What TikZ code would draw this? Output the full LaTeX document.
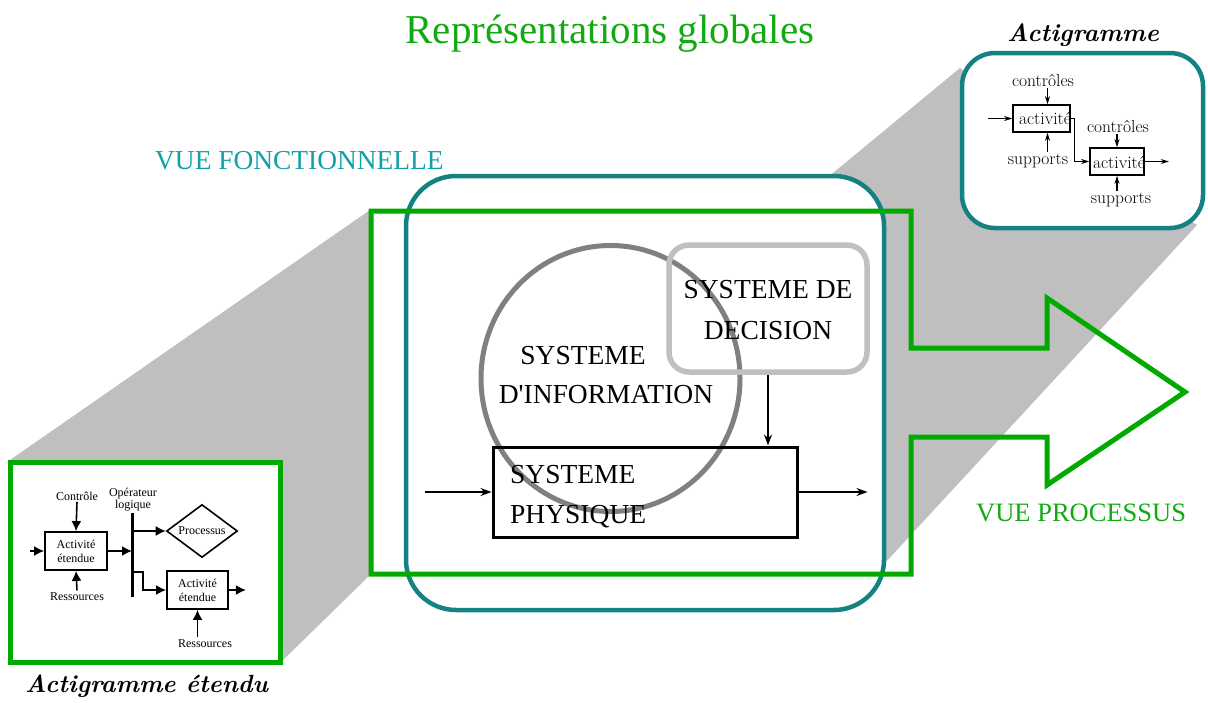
\documentclass[tikz,border=0pt]{standalone}
\usepackage{fontspec}
\newfontfamily\tnr{Liberation Serif}
\usetikzlibrary{arrows.meta,shapes.geometric}
\definecolor{teal1}{RGB}{20,130,130}
\definecolor{tealtxt}{RGB}{17,160,168}
\definecolor{grn}{RGB}{0,170,0}
\definecolor{grntxt}{RGB}{17,170,17}
\definecolor{projgray}{RGB}{191,191,191}
\definecolor{circgray}{RGB}{128,128,128}
\definecolor{decgray}{RGB}{192,192,192}
\tikzset{
  bigtxt/.style={font=\tnr\fontsize{27.5}{33}\selectfont, inner sep=0pt, anchor=base},
  ltxt/.style={font=\tnr\fontsize{12}{13}\selectfont, inner sep=1.5pt, anchor=base},
  atxt/.style={font=\fontsize{17.5}{20}\selectfont, inner sep=1.5pt, anchor=base},
  lbox/.style={draw, line width=1.8pt, inner sep=0pt, align=center, font=\tnr\fontsize{12}{14}\selectfont},
  abox/.style={draw, line width=1.6pt, inner sep=0pt, font=\fontsize{17}{20}\selectfont},
  larr/.style={line width=1.6pt, -{Latex[length=10pt,width=10pt]}},
  sarr/.style={line width=1.3pt, -{Stealth[length=8pt,width=5pt]}},
  carr/.style={line width=2.2pt, -{Stealth[length=11pt,width=8pt]}},
}
\begin{document}
\begin{tikzpicture}[x=1pt,y=-1pt]
\useasboundingbox (0,0) rectangle (1208,702);
% gray projections
\fill[projgray] (10,460) -- (370,210) -- (370,575) -- (280,663) -- (280,460) -- cycle;
\fill[projgray] (790,208) -- (833,173) -- (960,68) -- (1000,100) -- (1197,225) -- (860,590) -- (790,590) -- cycle;
% functional view box
\node[draw=teal1, fill=white, line width=4.5pt, rounded corners=50pt, minimum width=478pt, minimum height=434pt, inner sep=0pt] (vf) at (645,393) {};
% extended actigram frame
\node[draw=grn, fill=white, line width=5pt, minimum width=270pt, minimum height=200pt, inner sep=0pt] (ext) at (145,562) {};
% actigram frame
\node[draw=teal1, fill=white, line width=4.5pt, rounded corners=33pt, minimum width=241pt, minimum height=175pt, inner sep=0pt] (act) at (1082.5,140.5) {};
% process view outline (rectangle + arrow)
\draw[grn, line width=5pt, line join=miter] (371,211) -- (911,211) -- (911,348) -- (1047,348) -- (1047,298) -- (1185,392) -- (1047,485) -- (1047,437) -- (911,437) -- (911,574) -- (371,574) -- cycle;
% titles
\node[anchor=base, inner sep=0pt, text=grntxt, font=\tnr\fontsize{41}{48}\selectfont] (title) at (610,43) {Représentations globales};
\node[anchor=base west, inner sep=0pt, text=tealtxt, font=\tnr\fontsize{27.4}{32}\selectfont] (vft) at (155,169) {VUE FONCTIONNELLE};
\node[anchor=base west, inner sep=0pt, text=grntxt, font=\tnr\fontsize{26.5}{32}\selectfont] (vpt) at (976,521) {VUE PROCESSUS};
\node[anchor=base, inner sep=0pt, font=\fontsize{25}{30}\selectfont\bfseries\itshape] (actt) at (1083,41) {Actigramme};
\node[anchor=base west, inner sep=0pt, font=\fontsize{24.8}{30}\selectfont\bfseries\itshape] (extt) at (25,692) {Actigramme étendu};
% central diagram
\node[draw=circgray, line width=5pt, ellipse, minimum width=259pt, minimum height=266pt, inner sep=0pt] (si) at (610.5,378.5) {};
\node[draw=decgray, line width=5.5pt, rounded corners=20pt, minimum width=198pt, minimum height=127pt, inner sep=0pt] (dec) at (768,308.5) {};
\node[draw, line width=3pt, minimum width=304pt, minimum height=90pt, inner sep=0pt] (sp) at (645,492) {};
\node[bigtxt] (si1) at (583,364) {SYSTEME};
\node[bigtxt] (si2) at (606,403) {D'INFORMATION};
\node[bigtxt] (de1) at (768,298) {SYSTEME DE};
\node[bigtxt] (de2) at (768,339) {DECISION};
\node[bigtxt, anchor=base west] (sp1) at (510,483) {SYSTEME};
\node[bigtxt, anchor=base west] (sp2) at (510,523) {PHYSIQUE};
\coordinate (pin) at (425,492);
\draw[carr] (pin) -- (sp.west);
\draw[carr] (sp.east) -- ++(69,0) coordinate (pout);
\draw[carr] (dec.south) -- (dec.south |- sp.north);
% actigram content
\node[abox, minimum width=57pt, minimum height=27pt] (a1) at (1041.5,118.5) {};
\node[abox, minimum width=54pt, minimum height=27pt] (a2) at (1117,161.5) {};
\node[atxt] (a1t) at (1045,124) {activité};
\node[atxt] (a2t) at (1119,168) {activité};
\node[atxt] (c1) at (1043,86) {contrôles};
\node[atxt] (s1) at (1038,164) {supports};
\node[atxt] (c2) at (1118,132) {contrôles};
\node[atxt] (s2) at (1121,203) {supports};
\coordinate (a1n) at ([xshift=6pt]a1.north);
\coordinate (a1s) at ([xshift=6pt]a1.south);
\coordinate (ain) at (988,118.5);
\draw[sarr] (c1.south -| a1n) -- (a1n);
\draw[sarr] (s1.north -| a1s) -- (a1s);
\draw[sarr] (ain) -- (a1.west);
\draw[sarr] (a1.east) -- ++(4,0) |- (a2.west);
\draw[sarr] (a2.east) -- ++(24,0) coordinate (aout);
\draw[sarr] (c2.south -| a2.north) -- (a2.north);
\draw[sarr] (s2.north -| a2.south) -- (a2.south);
% extended actigram content
\node[lbox, minimum width=62pt, minimum height=38pt] (e1) at (76,551) {Activité\\étendue};
\node[lbox, minimum width=61pt, minimum height=38pt] (e2) at (197.5,590) {Activité\\étendue};
\node[draw, line width=1.6pt, diamond, aspect=1.35, inner sep=0pt, minimum width=71pt, minimum height=53pt, font=\tnr\fontsize{12}{14}\selectfont] (proc) at (202,531) {Processus};
\node[ltxt] (ctl) at (77,500) {Contrôle};
\node[ltxt] (res1) at (77,600) {Ressources};
\node[ltxt] (res2) at (205,647) {Ressources};
\node[font=\tnr\fontsize{12}{12}\selectfont, align=center, inner sep=0pt] (op) at (133,500) {Opérateur\\logique};
\coordinate (bt) at (132,513);
\coordinate (bb) at (132,597);
\draw[line width=3pt] (bt) -- (bb);
\coordinate (ein) at (30,551);
\draw[larr] (ein) -- (e1.west);
\draw[larr] (ctl.south) -- (e1.north);
\draw[larr] (res1.north) -- (e1.south);
\draw[larr] (e1.east) -- (e1.east -| bt);
\draw[larr] (proc.west -| bt) -- (proc.west);
\coordinate (b3) at (132,572);
\draw[larr] (b3) -- ++(11,0) |- (e2.west);
\draw[larr] (e2.east) -- ++(17,0) coordinate (eout);
\draw[larr] (res2.north -| e2.south) -- (e2.south);
\end{tikzpicture}
\end{document}
